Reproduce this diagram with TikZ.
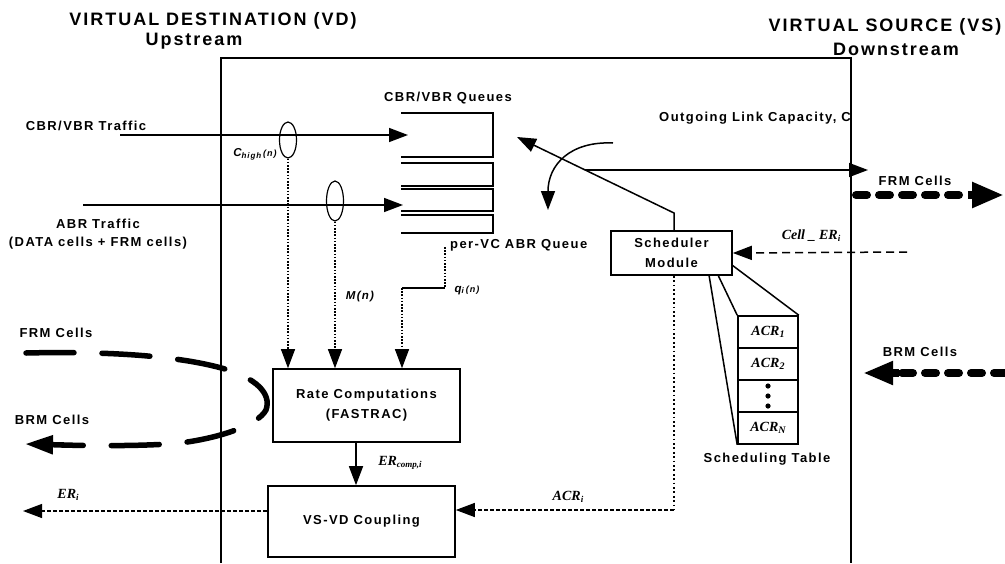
\documentclass[tikz,border=0pt]{standalone}
\usepackage{fontspec}
\setmainfont{Liberation Sans}[LetterSpace=11]
\newfontfamily\serifit{Liberation Serif}
\usetikzlibrary{arrows.meta,shapes.geometric}
\tikzset{
  lbl/.style={font=\bfseries\fontsize{13}{18}\selectfont, inner sep=0, align=center},
  ttl/.style={font=\bfseries\fontsize{18}{20}\selectfont, inner sep=0},
  mlbl/.style={font=\bfseries\itshape\fontsize{11.5}{12}\selectfont, inner sep=0},
  slbl/.style={font=\serifit\bfseries\itshape\fontsize{14}{15}\selectfont, inner sep=0},
  box/.style={draw, line width=1.6pt, inner sep=0, align=center, font=\bfseries\fontsize{13}{20}\selectfont},
  cell/.style={draw, line width=1.6pt, inner sep=0, minimum width=60pt, minimum height=32pt, font=\serifit\bfseries\itshape\fontsize{14}{15}\selectfont},
  thin/.style={line width=1.5pt},
  tip/.style={-{Triangle[length=19pt,width=14pt]}},
  dotl/.style={line width=1.1pt, dash pattern=on 1.6pt off 1.6pt},
  bdotl/.style={line width=1.8pt, dash pattern=on 1.8pt off 2.6pt},
  dashl/.style={line width=1.2pt, dash pattern=on 4pt off 2pt},
  cdash/.style={line width=1.5pt, dash pattern=on 8pt off 5pt},
  rmleft/.style={line width=5.5pt, line cap=round, dash pattern=on 48pt off 28pt},
  rmright/.style={line width=8pt, line cap=round, dash pattern=on 11pt off 12pt},
  ell/.style={draw, ellipse, line width=1.2pt, inner sep=0},
}
\begin{document}
\begin{tikzpicture}[x=1pt,y=-1pt]
\useasboundingbox (0,0) rectangle (1005,563);
% titles
\node[ttl] (vdt) at (213,21) {VIRTUAL DESTINATION (VD)};
\node[ttl] (vdu) at (194,41) {Upstream};
\node[ttl] (vst) at (885,27) {VIRTUAL SOURCE (VS)};
\node[ttl] (vsd) at (896,49) {Downstream};
% switch boundary
\coordinate (bl) at (221,563);
\coordinate (tl) at (221,58);
\coordinate (tr) at (851,58);
\coordinate (br) at (851,563);
\draw[thin] (bl) -- (tl) -- (tr) -- (br);
% queues
\node[lbl] (qlab) at (448,98) {CBR/VBR Queues};
\draw[thin] (401,113) -- (493,113) -- (493,157) -- (401,157);
\draw[thin] (401,163) -- (493,163) -- (493,186) -- (401,186);
\draw[thin] (401,189) -- (493,189) -- (493,211) -- (401,211);
\draw[thin] (401,215) -- (493,215) -- (493,233) -- (401,233);
\node[lbl, anchor=west] (pvc) at (450,245) {per-VC ABR Queue};
% traffic inputs
\node[lbl] (cbrt) at (86,126) {CBR/VBR Traffic};
\coordinate (cbrs) at (120,135);
\coordinate (cbre) at (408,135);
\draw[thin,tip] (cbrs) -- (cbre);
\node[lbl] (abrt) at (98,234) {ABR Traffic\\(DATA cells + FRM cells)};
\coordinate (abrs) at (83,205);
\coordinate (abre) at (403,205);
\draw[thin,tip] (abrs) -- (abre);
% probes
\node[ell, minimum width=17pt, minimum height=36pt] (e1) at (288,140) {};
\node[ell, minimum width=17pt, minimum height=40pt] (e2) at (335,201) {};
\node[mlbl] (chigh) at (255,154) {C\raisebox{-0.35ex}{\fontsize{8}{9}\selectfont high}\,{\fontsize{9}{10}\selectfont(n)}};
\node[mlbl] (mn) at (360,297) {M(n)};
\node[mlbl] (qn) at (467,290) {q\raisebox{-0.3ex}{\fontsize{8}{9}\selectfont i}\,{\fontsize{9}{10}\selectfont(n)}};
% rate computations
\node[box, minimum width=187pt, minimum height=73pt] (rate) at (366.5,405.5) {Rate Computations\\(FASTRAC)};
\draw[dotl,tip] (e1.south) -- (e1.south |- rate.north);
\draw[dotl,tip] (e2.south) -- (e2.south |- rate.north);
\coordinate (qtop) at (445,247);
\coordinate (qcor) at (445,288);
\coordinate (qleft) at (402,288);
\draw[dotl] (qtop) -- (qcor);
\draw[line width=1.1pt] (qcor) -- (qleft);
\draw[dotl,tip] (qleft) -- (qleft |- rate.north);
% VS-VD coupling
\node[box, minimum width=187pt, minimum height=71pt] (vsvd) at (361.5,521.5) {VS-VD Coupling};
\draw[thin,tip] (rate.south -| 356,0) -- (vsvd.north -| 356,0);
\node[slbl] (ercomp) at (400,463) {ER\raisebox{-0.35ex}{\fontsize{9}{10}\selectfont comp,i}};
\coordinate (erend) at (23,511);
\draw[dashl,tip] (vsvd.west |- 0,511) -- (erend);
\node[slbl] (eri) at (68,495) {ER\raisebox{-0.35ex}{\fontsize{9}{10}\selectfont i}};
% scheduler
\node[box, minimum width=121pt, minimum height=44pt] (sched) at (671.5,253) {Scheduler\\Module};
\coordinate (sk) at (674,213);
\coordinate (stip) at (517,137);
\draw[thin,tip] (sched.north -| sk) -- (sk) -- (stip);
\coordinate (cs) at (613,143);
\coordinate (ce) at (548,210);
\draw[thin,tip] (cs) .. controls (570,141) and (548,165) .. (ce);
\coordinate (ols) at (585,170);
\coordinate (ole) at (868,170);
\draw[thin,tip] (ols) -- (ole);
\node[lbl] (olc) at (755,118) {Outgoing Link Capacity, C};
% Cell_ER
\coordinate (ces) at (907,252);
\draw[cdash,tip] (ces) -- (sched.east);
\node[slbl] (cer) at (811,236) {Cell \_ ER\raisebox{-0.35ex}{\fontsize{9}{10}\selectfont i}};
% scheduling table
\node[cell] (c1) at (768,332) {ACR\raisebox{-0.35ex}{\fontsize{10}{11}\selectfont 1}};
\node[cell] (c2) at (768,364) {ACR\raisebox{-0.35ex}{\fontsize{10}{11}\selectfont 2}};
\node[cell] (c3) at (768,396) {};
\node[cell] (c4) at (768,428) {ACR\raisebox{-0.35ex}{\fontsize{10}{11}\selectfont N}};
\fill (768,386) circle (2.6);
\fill (768,396) circle (2.6);
\fill (768,406) circle (2.6);
\node[lbl] (stab) at (767,459) {Scheduling Table};
\draw[thin] (732,265) -- (c1.north east);
\draw[thin] (718,275) -- (c1.north west);
\draw[thin] (709,275) -- (c4.south west);
% ACR_i feedback
\coordinate (sd) at (674,510);
\draw[bdotl] (sched.south -| sd) -- (sd);
\draw[dashl,tip] (sd) -- (vsvd.east |- sd);
\node[slbl] (acri) at (568,497) {ACR\raisebox{-0.35ex}{\fontsize{9}{10}\selectfont i}};
% RM cells left
\node[lbl] (frml) at (56,333) {FRM Cells};
\node[lbl] (brml) at (52,420) {BRM Cells};
\coordinate (rms) at (26,353);
\coordinate (rme) at (25,444);
\draw[rmleft] (rms) .. controls (110,351) and (180,356) .. (225,369) .. controls (255,378) and (272,393) .. (266,410) .. controls (258,425) and (220,438) .. (180,443) .. controls (150,446) and (100,446) .. (62,445);
\draw[line width=5.5pt, -{Triangle[length=28pt,width=18pt]}] (64,445) -- (rme);
% RM cells right
\node[lbl] (frmr) at (915,181) {FRM Cells};
\node[lbl] (brmr) at (920,352) {BRM Cells};
\coordinate (frs) at (856,195);
\coordinate (fre) at (1004,195);
\draw[rmright] (frs) -- (970,195);
\draw[line width=8pt, -{Triangle[length=32pt,width=24pt]}] (968,195) -- (fre);
\coordinate (brs) at (1005,373);
\coordinate (bre) at (863,373);
\draw[rmright] (brs) -- (897,373);
\draw[line width=8pt, -{Triangle[length=30pt,width=22pt]}] (899,373) -- (bre);
\end{tikzpicture}
\end{document}
